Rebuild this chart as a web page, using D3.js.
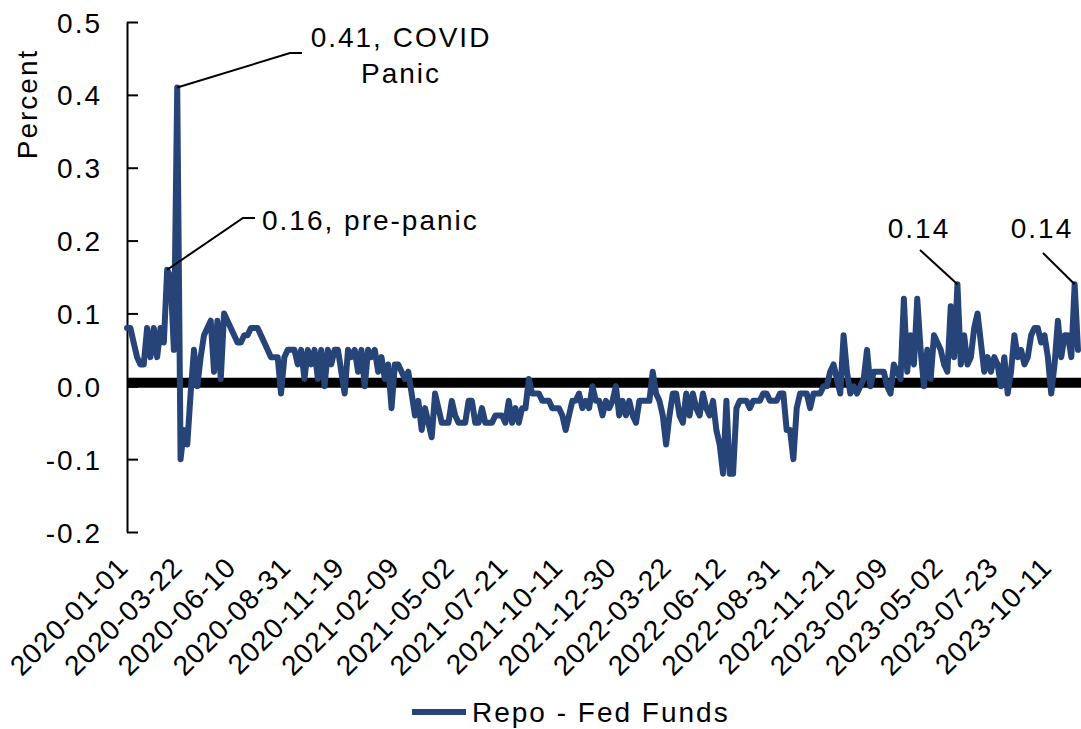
<!DOCTYPE html>
<html>
<head>
<meta charset="utf-8">
<script src="https://cdn.jsdelivr.net/npm/d3@7"></script>
<style>
  body { margin: 0; background: #fff; }
  svg text { font-family: "Liberation Sans", Arial, sans-serif; font-size: 28px; fill: #000; letter-spacing: 2px; }
  svg .xlab { letter-spacing: 1px; }
</style>
</head>
<body>
<div id="chart"></div>
<script>
// Repo - Fed Funds spread, one reading every 5 days starting 2020-01-01
const startDate = new Date(2020, 0, 1);
const stepDays = 5;
const repoSpread = [
  0.08, 0.08, 0.06, 0.04, 0.03, 0.03, 0.08, 0.04, 0.08, 0.04,
  0.08, 0.06, 0.16, 0.15, 0.05, 0.41, -0.10, -0.06, -0.08, -0.01,
  0.05, 0.00, 0.04, 0.07, 0.08, 0.09, 0.02, 0.09, 0.01, 0.10,
  0.09, 0.08, 0.07, 0.06, 0.06, 0.07, 0.07, 0.08, 0.08, 0.08,
  0.07, 0.06, 0.05, 0.04, 0.04, 0.04, -0.01, 0.04, 0.05, 0.05,
  0.05, 0.03, 0.05, 0.01, 0.05, 0.03, 0.05, 0.01, 0.05, 0.00,
  0.05, 0.03, 0.05, 0.05, 0.02, -0.01, 0.05, 0.04, 0.05, 0.02,
  0.05, 0.00, 0.05, 0.04, 0.05, 0.02, 0.04, 0.01, 0.03, -0.03,
  0.03, 0.03, 0.02, 0.01, 0.02, -0.01, -0.04, -0.02, -0.06, -0.03,
  -0.05, -0.07, -0.01, -0.03, -0.05, -0.05, -0.05, -0.02, -0.04, -0.05,
  -0.05, -0.05, -0.02, -0.02, -0.05, -0.05, -0.03, -0.05, -0.05, -0.05,
  -0.04, -0.04, -0.04, -0.05, -0.02, -0.05, -0.03, -0.05, -0.03, -0.03,
  0.01, -0.01, -0.01, -0.01, -0.02, -0.02, -0.02, -0.03, -0.03, -0.03,
  -0.04, -0.06, -0.04, -0.02, -0.02, -0.01, -0.03, -0.02, -0.03, 0.00,
  -0.02, -0.02, -0.04, -0.02, -0.03, -0.02, 0.00, -0.04, -0.02, -0.04,
  -0.02, -0.04, -0.05, -0.02, -0.02, -0.02, -0.02, 0.02, -0.01, -0.02,
  -0.04, -0.08, -0.04, -0.01, -0.01, -0.04, -0.05, -0.01, -0.04, -0.01,
  -0.03, -0.04, -0.01, -0.03, -0.04, -0.02, -0.06, -0.08, -0.12, -0.02,
  -0.12, -0.12, -0.03, -0.02, -0.02, -0.02, -0.03, -0.02, -0.02, -0.02,
  -0.01, -0.01, -0.02, -0.02, -0.02, -0.01, -0.01, -0.06, -0.06, -0.10,
  -0.03, -0.01, -0.01, -0.01, -0.03, -0.01, -0.01, -0.01, 0.00, 0.00,
  0.02, 0.03, 0.01, -0.01, 0.07, 0.02, -0.01, 0.00, -0.01, 0.00,
  0.01, 0.05, 0.00, 0.02, 0.02, 0.02, 0.02, 0.00, -0.01, 0.03,
  0.02, 0.01, 0.12, 0.02, 0.07, 0.03, 0.12, 0.05, 0.00, 0.05,
  0.01, 0.07, 0.06, 0.05, 0.03, 0.02, 0.11, 0.04, 0.14, 0.03,
  0.07, 0.03, 0.04, 0.08, 0.10, 0.06, 0.02, 0.04, 0.02, 0.04,
  0.03, 0.00, 0.04, -0.01, 0.02, 0.07, 0.04, 0.05, 0.03, 0.04,
  0.07, 0.08, 0.08, 0.06, 0.07, 0.04, -0.01, 0.03, 0.09, 0.04,
  0.07, 0.07, 0.04, 0.14, 0.05
];

const yTicks = [-0.2, -0.1, 0.0, 0.1, 0.2, 0.3, 0.4, 0.5];
const xTickLabels = [
  "2020-01-01", "2020-03-22", "2020-06-10", "2020-08-31", "2020-11-19",
  "2021-02-09", "2021-05-02", "2021-07-21", "2021-10-11", "2021-12-30",
  "2022-03-22", "2022-06-12", "2022-08-31", "2022-11-21", "2023-02-09",
  "2023-05-02", "2023-07-23", "2023-10-11"
];

// callouts: index into the series, text lines
const callouts = [
  { i: 15, lines: ["0.41, COVID", "Panic"] },
  { i: 12, lines: ["0.16, pre-panic"] },
  { i: 248, lines: ["0.14"] },
  { i: 283, lines: ["0.14"] }
];

const seriesName = "Repo - Fed Funds";
const lineColor = "#264478";

const width = 1081, height = 729;
const margin = { top: 22, right: 3, bottom: 197, left: 127 };

const data = repoSpread.map((v, i) => ({ date: d3.timeDay.offset(startDate, i * stepDays), value: v }));

const svg = d3.select("#chart").append("svg")
  .attr("width", width)
  .attr("height", height);

const x = d3.scaleTime()
  .domain(d3.extent(data, d => d.date))
  .range([margin.left, width - margin.right]);

const y = d3.scaleLinear()
  .domain([-0.2, 0.5])
  .range([height - margin.bottom, margin.top]);

// y axis, ticks pointing into the plot
const yAxis = svg.append("g")
  .attr("transform", `translate(${margin.left},0)`)
  .call(d3.axisLeft(y).tickValues(yTicks).tickSizeInner(-11).tickSizeOuter(0).tickPadding(25)
    .tickFormat(d => d.toFixed(1)));
yAxis.attr("font-size", null).attr("font-family", null);
yAxis.select(".domain").attr("stroke", "#000").attr("stroke-width", 2);
yAxis.selectAll(".tick line").attr("stroke", "#000").attr("stroke-width", 2);
yAxis.selectAll(".tick text").attr("dy", "0.36em");

svg.append("text")
  .attr("transform", "translate(37,104) rotate(-90)")
  .attr("text-anchor", "middle")
  .text("Percent");

// zero line
svg.append("line")
  .attr("x1", margin.left).attr("x2", width)
  .attr("y1", y(0.005)).attr("y2", y(0.005))
  .attr("stroke", "#000")
  .attr("stroke-width", 10);

// x labels, rotated
const parseDate = d3.timeParse("%Y-%m-%d");
svg.append("g").selectAll("text")
  .data(xTickLabels)
  .join("text")
  .attr("class", "xlab")
  .attr("transform", d => `translate(${x(parseDate(d)) + 3},${y(-0.2) + 37}) rotate(-45)`)
  .attr("text-anchor", "end")
  .text(d => d);

// series
const line = d3.line()
  .x(d => x(d.date))
  .y(d => y(d.value));

svg.append("path")
  .datum(data)
  .attr("fill", "none")
  .attr("stroke", lineColor)
  .attr("stroke-width", 6)
  .attr("stroke-linejoin", "round")
  .attr("stroke-linecap", "round")
  .attr("d", line);

// callouts
const pt = i => [x(data[i].date), y(data[i].value)];
const leader = d3.line();

svg.append("path")
  .attr("d", leader([pt(callouts[0].i), [290, 53], [302, 53]]))
  .attr("fill", "none").attr("stroke", "#000").attr("stroke-width", 2);
svg.append("text")
  .attr("x", 401).attr("y", 47)
  .attr("text-anchor", "middle")
  .selectAll("tspan")
  .data(callouts[0].lines)
  .join("tspan")
  .attr("x", 401)
  .attr("dy", (d, k) => k === 0 ? 0 : 36)
  .text(d => d);

svg.append("path")
  .attr("d", leader([pt(callouts[1].i), [243, 218], [255, 218]]))
  .attr("fill", "none").attr("stroke", "#000").attr("stroke-width", 2);
svg.append("text")
  .attr("x", 262).attr("y", 230)
  .text(callouts[1].lines[0]);

svg.append("path")
  .attr("d", leader([pt(callouts[2].i), [920, 250]]))
  .attr("fill", "none").attr("stroke", "#000").attr("stroke-width", 2);
svg.append("text")
  .attr("x", 919).attr("y", 238)
  .attr("text-anchor", "middle")
  .text(callouts[2].lines[0]);

svg.append("path")
  .attr("d", leader([pt(callouts[3].i), [1043, 253]]))
  .attr("fill", "none").attr("stroke", "#000").attr("stroke-width", 2);
svg.append("text")
  .attr("x", 1042).attr("y", 238)
  .attr("text-anchor", "middle")
  .text(callouts[3].lines[0]);

// legend
const legend = svg.append("g").attr("transform", "translate(412,712)");
legend.append("line")
  .attr("x1", 0).attr("x2", 54)
  .attr("stroke", lineColor)
  .attr("stroke-width", 6);
legend.append("text")
  .attr("x", 60)
  .attr("dy", "0.36em")
  .text(seriesName);
</script>
</body>
</html>
